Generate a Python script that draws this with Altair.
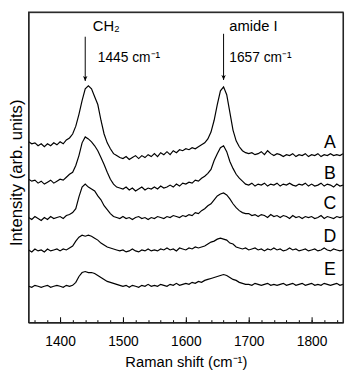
import altair as alt
import pandas as pd

wavenumber = list(range(1350, 1851, 5))

trace_A = [184, 182, 183, 180, 182, 179, 182, 180, 183, 181,
           184, 182, 186, 188, 192, 200, 212, 226, 238, 241,
           238, 230, 222, 206, 192, 183, 177, 172, 170, 168,
           167, 169, 166, 168, 170, 167, 170, 168, 171, 169,
           172, 169, 173, 171, 174, 171, 175, 173, 176, 175,
           177, 176, 178, 177, 179, 181, 183, 187, 194, 206,
           222, 236, 240, 232, 214, 196, 185, 179, 175, 173,
           172, 173, 171, 172, 174, 171, 175, 172, 170, 172,
           171, 169, 171, 170, 172, 169, 171, 170, 172, 169,
           171, 170, 172, 169, 171, 170, 172, 170, 171, 170,
           172]
trace_B = [146, 144, 145, 142, 144, 141, 143, 145, 142, 144,
           146, 145, 148, 151, 153, 160, 170, 183, 189, 187,
           184, 180, 175, 168, 161, 153, 146, 141, 138, 137,
           136, 138, 135, 137, 134, 136, 138, 135, 137, 136,
           138, 136, 139, 137, 138, 140, 138, 141, 139, 142,
           141, 143, 142, 145, 144, 147, 149, 152, 156, 165,
           172, 178, 180, 174, 164, 157, 151, 147, 144, 141,
           140, 142, 139, 141, 140, 142, 139, 141, 140, 142,
           139, 141, 140, 142, 140, 139, 141, 140, 142, 139,
           141, 139, 140, 142, 139, 141, 140, 138, 141, 139,
           140]
trace_C = [107, 105, 108, 106, 104, 107, 105, 108, 106, 107,
           108, 106, 109, 110, 112, 116, 128, 138, 141, 138,
           136, 134, 129, 125, 119, 115, 111, 108, 107, 106,
           108, 106, 107, 105, 107, 108, 106, 107, 105, 107,
           106, 108, 107, 106, 108, 107, 109, 108, 107, 109,
           108, 110, 109, 112, 111, 114, 116, 119, 121, 125,
           129, 131, 132, 130, 126, 121, 117, 114, 112, 111,
           111, 109, 110, 108, 110, 109, 107, 110, 108, 109,
           107, 109, 108, 106, 109, 107, 108, 106, 108, 107,
           108, 106, 107, 109, 106, 108, 107, 106, 108, 107,
           108]
trace_D = [74, 72, 75, 73, 74, 72, 75, 73, 74, 75,
           73, 75, 74, 76, 78, 83, 87, 89, 88, 89,
           88, 86, 84, 81, 79, 77, 76, 75, 74, 73,
           74, 72, 73, 75, 73, 72, 74, 73, 75, 73,
           74, 73, 75, 74, 76, 74, 75, 73, 76, 75,
           74, 76, 75, 77, 76, 77, 78, 80, 82, 83,
           85, 86, 85, 84, 81, 80, 77, 76, 75, 76,
           74, 75, 76, 74, 75, 73, 75, 74, 76, 74,
           75, 73, 74, 76, 74, 75, 73, 74, 75, 73,
           74, 75, 73, 74, 76, 74, 73, 75, 74, 73,
           74]
trace_E = [37, 36, 38, 37, 36, 37, 38, 36, 37, 38,
           37, 36, 38, 37, 38, 41, 47, 51, 52, 51,
           51, 50, 48, 46, 44, 42, 41, 40, 39, 38,
           37, 38, 36, 38, 37, 36, 38, 37, 39, 37,
           38, 37, 39, 38, 37, 39, 38, 40, 38, 39,
           40, 39, 41, 40, 42, 41, 43, 44, 45, 46,
           47, 48, 49, 48, 46, 44, 43, 41, 40, 39,
           39, 38, 40, 39, 38, 39, 40, 38, 39, 38,
           39, 40, 38, 39, 40, 38, 39, 40, 38, 39,
           40, 38, 39, 38, 40, 39, 38, 39, 40, 38,
           39]

trace_names = ["A", "B", "C", "D", "E"]
label_x = [1829, 1829, 1829, 1829, 1829]
label_y = [183, 151, 121, 87, 53]

band_names = ["CH\u2082", "amide I"]
band_x = [1452, 1669]
band_y = [302, 302]

shift_text = ["1445 cm\u207b\u00b9", "1657 cm\u207b\u00b9"]
shift_x = [1460, 1669]
shift_y = [269, 269]

arrow_x = [1440, 1660]
arrow_top = [291, 294]
arrow_tip = [246, 247]

major_ticks = [1400, 1500, 1600, 1700, 1800]
minor_ticks = list(range(1360, 1850, 20))

x_domain = [1350, 1850]
y_domain = [0, 316]

W, H = 320, 316
FONT = "Liberation Sans"

rows = []
for name, vals in zip(trace_names, [trace_A, trace_B, trace_C, trace_D, trace_E]):
    assert len(vals) == len(wavenumber), (name, len(vals))
    for w, v in zip(wavenumber, vals):
        rows.append({"wn": w, "v": v, "trace": name})
spectra = pd.DataFrame(rows)
labels_df = pd.DataFrame({"wn": label_x, "v": label_y, "t": trace_names})
band_df = pd.DataFrame({"wn": band_x, "v": band_y, "t": band_names})
shift_df = pd.DataFrame({"wn": shift_x, "v": shift_y, "t": shift_text})
arrow_df = pd.DataFrame({"wn": arrow_x, "v": arrow_top, "v2": arrow_tip})
frame_df = pd.DataFrame({"x0": [x_domain[0]], "x1": [x_domain[1]],
                         "y0": [y_domain[0]], "y1": [y_domain[1]]})

xs = alt.Scale(domain=x_domain, nice=False, zero=False)
ys = alt.Scale(domain=y_domain, nice=False, zero=False)

y_axis = alt.Axis(
    orient="left", labels=False, ticks=False, domain=False, grid=False,
    title="Intensity (arb. units)", titleFontSize=17, titleFontWeight="normal",
    titleColor="black", titleFont=FONT, titlePadding=3, titleY=163)

lines = alt.Chart(spectra).mark_line(color="black", strokeWidth=1.2).encode(
    x=alt.X("wn:Q", scale=xs, axis=alt.Axis(
        orient="bottom", values=major_ticks, format="d", ticks=False, tickSize=0,
        domain=False, labelFontSize=14, labelPadding=12, labelColor="black",
        labelFont=FONT, title="Raman shift (cm\u207b\u00b9)", titleFontSize=15,
        titleFontWeight="normal", titlePadding=7, titleColor="black",
        titleFont=FONT, grid=False)),
    y=alt.Y("v:Q", scale=ys, axis=y_axis),
    detail="trace:N",
)

labels = alt.Chart(labels_df).mark_text(
    fontSize=18, font=FONT, color="black", align="center", baseline="middle"
).encode(
    x=alt.X("wn:Q", scale=xs, axis=alt.Axis(
        orient="top", offset=-H, values=major_ticks, labels=False, domain=False,
        tickSize=6, tickColor="black", tickWidth=1, title=None, grid=False)),
    y=alt.Y("v:Q", scale=ys, axis=y_axis),
    text="t:N",
)

bands = alt.Chart(band_df).mark_text(
    fontSize=15, font=FONT, color="black", align="left", baseline="middle"
).encode(
    x=alt.X("wn:Q", scale=xs, axis=alt.Axis(
        orient="top", offset=-H, values=minor_ticks, labels=False, domain=False,
        tickSize=3, tickColor="black", tickWidth=1, title=None, grid=False)),
    y=alt.Y("v:Q", scale=ys, axis=y_axis),
    text="t:N",
)

shifts = alt.Chart(shift_df).mark_text(
    fontSize=14, font=FONT, color="black", align="left", baseline="middle"
).encode(
    x=alt.X("wn:Q", scale=xs, axis=None),
    y=alt.Y("v:Q", scale=ys, axis=y_axis),
    text="t:N",
)

arrows = alt.Chart(arrow_df).mark_rule(color="black", strokeWidth=1).encode(
    x=alt.X("wn:Q", scale=xs, axis=None),
    y=alt.Y("v:Q", scale=ys, axis=y_axis),
    y2="v2:Q",
)

heads = alt.Chart(arrow_df).mark_point(
    shape="M-0.45,-1L0,0L0.45,-1L0,-0.75Z", size=100, filled=True,
    color="black", opacity=1, strokeWidth=0
).encode(
    x=alt.X("wn:Q", scale=xs, axis=None),
    y=alt.Y("v2:Q", scale=ys, axis=y_axis),
)

frame = alt.Chart(frame_df).mark_rect(
    fillOpacity=0, stroke="#222222", strokeWidth=1.2
).encode(
    x=alt.X("x0:Q", scale=xs, axis=None),
    x2="x1:Q",
    y=alt.Y("y0:Q", scale=ys, axis=y_axis),
    y2="y1:Q",
)

chart = alt.layer(lines, labels, bands, shifts, arrows, heads, frame).resolve_axis(
    x="independent"
).properties(
    width=W, height=H,
    padding={"left": 0, "top": 0, "right": 0, "bottom": 0},
).configure(
    font=FONT
).configure_view(
    stroke="#222222", strokeWidth=1
)

chart.save("out.html", embed_options={"renderer": "svg", "actions": False})
